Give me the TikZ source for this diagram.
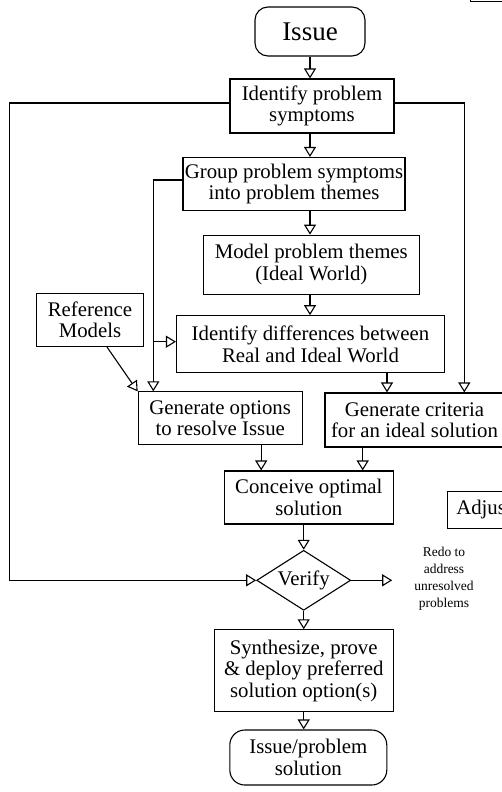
\documentclass[tikz,border=0pt]{standalone}
\usepackage{fontspec}
\setmainfont{Liberation Serif}
\usetikzlibrary{arrows.meta, shapes.geometric}
\tikzset{
box/.style={draw, line width=1.1bp, align=center, inner sep=0pt, font=\fontsize{20.8bp}{21.5bp}\selectfont},
term/.style={box, rounded corners=13bp},
check/.style={box, diamond, aspect=1.57},
note/.style={align=center, inner ysep=0pt, inner xsep=22bp, font=\fontsize{13.5bp}{17bp}\selectfont},
flow/.style={-{Triangle[open, length=10bp, width=12bp]}, line width=1.1bp},
}

\begin{document}
\begin{tikzpicture}[x=1bp, y=-1bp]
    \useasboundingbox (0,0) rectangle (502,792);
    \clip (0,0) rectangle (502,792);
    \node[term, minimum width=110bp, minimum height=49bp, font=\fontsize{27bp}{27bp}\selectfont] (issue) at (310,31.5) {Issue};
    \node[box, minimum width=164bp, minimum height=54bp] (symp) at (312,106) {Identify problem\\symptoms};
    \node[box, minimum width=222bp, minimum height=53bp] (group) at (294,184) {Group problem symptoms\\into problem themes};
    \node[box, minimum width=216bp, minimum height=59bp] (model) at (311.3,264.7) {Model problem themes\\(Ideal World)};
    \node[box, minimum width=268bp, minimum height=57bp] (diff) at (310.5,344.2) {Identify differences between\\Real and Ideal World};
    \node[box, minimum width=107bp, minimum height=53bp] (ref) at (90,320) {Reference\\Models};
    \node[box, minimum width=164bp, minimum height=53bp] (opt) at (220.2,418.4) {Generate options\\to resolve Issue};
    \node[box, minimum width=179bp, minimum height=54bp] (crit) at (414.5,420) {Generate criteria\\for an ideal solution};
    \node[box, minimum width=169bp, minimum height=53bp] (conc) at (308.8,497.5) {Conceive optimal\\solution};
    \node[check, minimum width=94bp, minimum height=60bp] (verify) at (303.7,580.3) {Verify};
    \node[note] (redo) at (444,579) {Redo to\\address\\unresolved\\problems};
    \node[box, minimum width=179bp, minimum height=82bp] (synth) at (303.7,670.8) {Synthesize, prove\\\& deploy preferred\\solution option(s)};
    \node[term, rounded corners=15bp, minimum width=157bp, minimum height=55bp] (sol) at (308.3,757.5) {Issue/problem\\solution};
    \node[box, anchor=north west, inner xsep=9bp, minimum height=37bp] (adj) at (446.7,490.7) {Adjust};
    \node[box, anchor=south west, minimum width=100bp, minimum height=40bp] (top) at (470,1.7) {};
    \coordinate (rail) at (9.3,0);
    \coordinate (optin) at ([xshift=-66.9bp]opt.north);
    \draw[flow] (issue.south) -- (issue.south |- symp.north);
    \draw[flow] (issue |- symp.south) -- (issue |- group.north);
    \draw[flow] (issue |- group.south) -- (issue |- model.north);
    \draw[flow] (issue |- model.south) -- (issue |- diff.north);
    \draw[flow] ([yshift=3bp]symp.west) -| (rail |- verify) -- (verify.west);
    \draw[flow] ([yshift=3bp]symp.east) -| ([xshift=49.8bp]crit.north);
    \draw[flow] ([yshift=4bp]group.west) -| (optin);
    \draw[flow] ([yshift=2.5bp]diff.west -| optin) -- ([yshift=2.5bp]diff.west);
    \draw[flow] ([xshift=-27.5bp]crit.north |- diff.south) -- ([xshift=-27.5bp]crit.north);
    \draw[flow] ([xshift=17bp]ref.south) -- (opt.north west);
    \draw[flow] ([xshift=41bp]opt.south) -- ([xshift=41bp]opt.south |- conc.north);
    \draw[flow] ([xshift=-51.8bp]crit.south) -- ([xshift=-51.8bp]crit.south |- conc.north);
    \draw[flow] (verify.north |- conc.south) -- (verify.north);
    \draw[flow] (verify.east) -- (verify.east -| redo.west);
    \draw[flow] (verify.south) -- (synth.north);
    \draw[flow] (synth.south) -- (synth.south |- sol.north);
\end{tikzpicture}
\end{document}
